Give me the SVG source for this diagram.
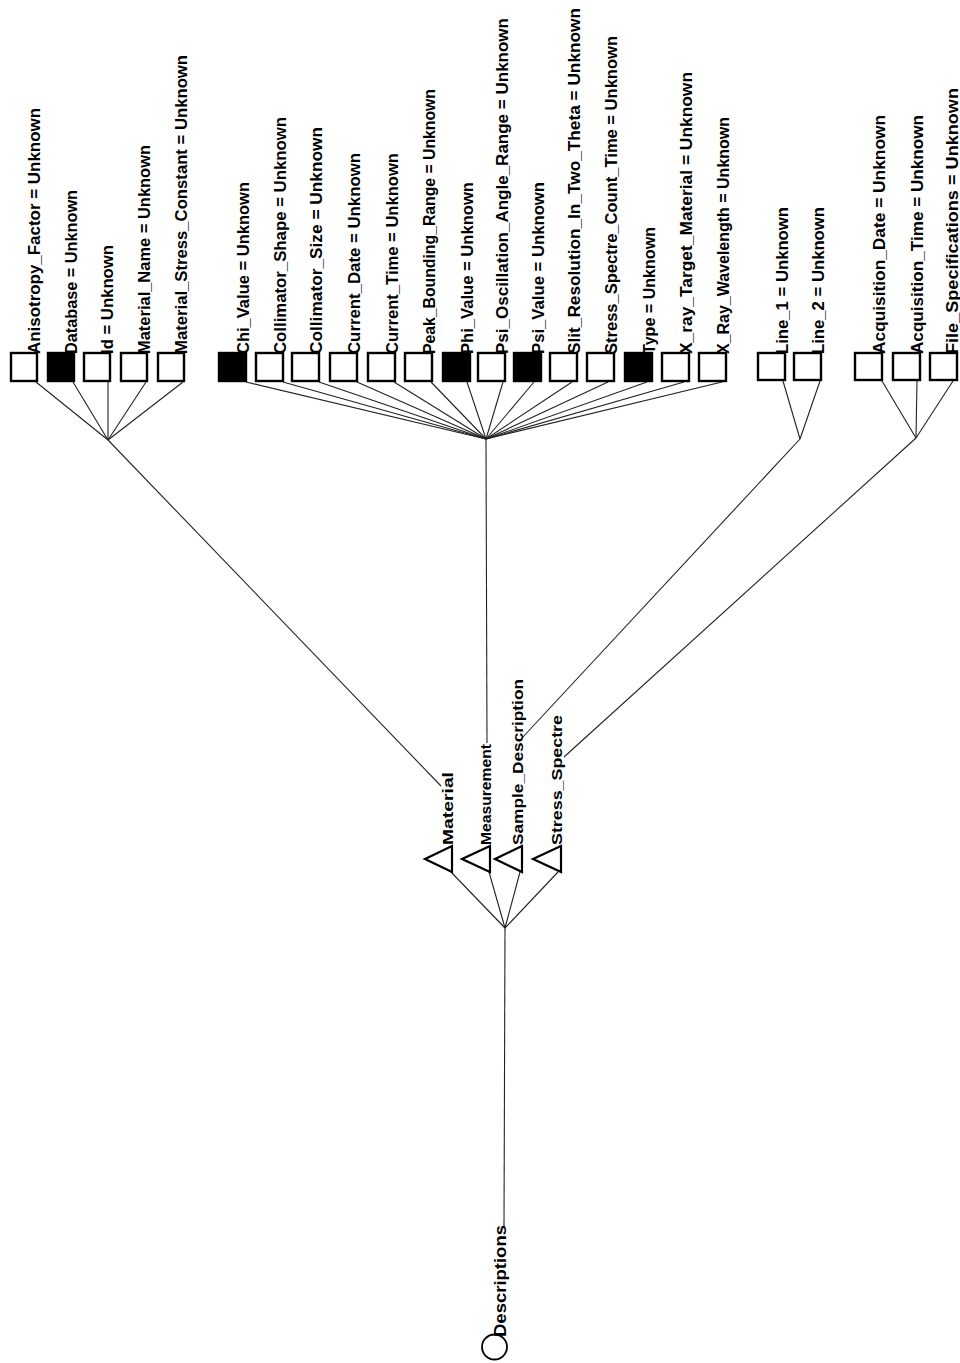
<svg xmlns="http://www.w3.org/2000/svg" width="960" height="1363" viewBox="0 0 960 1363">
<style>
.bg{fill:#ffffff}
.box{fill:#ffffff;stroke:#000;stroke-width:2.4}
.box.f{fill:#000}
.tri{fill:#fff;stroke:#000;stroke-width:2.2}
.circ{fill:#fff;stroke:#000;stroke-width:1.8}
.lbl{font-family:"Liberation Sans",Arial,sans-serif;font-weight:bold;font-size:17px;fill:#000}
.tl{font-family:"Liberation Sans",Arial,sans-serif;font-weight:bold;font-size:15px;fill:#000}
#connectors line{stroke:#222;stroke-width:1.1}
</style>
<rect class="bg" x="0" y="0" width="960" height="1363"/>
<g id="connectors">
<line x1="36" y1="382" x2="108" y2="440"/>
<line x1="73" y1="382" x2="108" y2="440"/>
<line x1="108" y1="382" x2="108" y2="440"/>
<line x1="146" y1="382" x2="108" y2="440"/>
<line x1="183" y1="382" x2="108" y2="440"/>
<line x1="246" y1="382" x2="486" y2="439"/>
<line x1="283" y1="382" x2="486" y2="439"/>
<line x1="319" y1="382" x2="486" y2="439"/>
<line x1="357" y1="382" x2="486" y2="439"/>
<line x1="394" y1="382" x2="486" y2="439"/>
<line x1="431" y1="382" x2="486" y2="439"/>
<line x1="467" y1="382" x2="486" y2="439"/>
<line x1="503" y1="382" x2="486" y2="439"/>
<line x1="534" y1="382" x2="486" y2="439"/>
<line x1="572" y1="382" x2="486" y2="439"/>
<line x1="608" y1="382" x2="486" y2="439"/>
<line x1="647" y1="382" x2="486" y2="439"/>
<line x1="684" y1="382" x2="486" y2="439"/>
<line x1="722" y1="382" x2="486" y2="439"/>
<line x1="783" y1="381" x2="800" y2="439"/>
<line x1="820" y1="381" x2="800" y2="439"/>
<line x1="882" y1="381" x2="916" y2="438"/>
<line x1="917" y1="381" x2="916" y2="438"/>
<line x1="953" y1="381" x2="916" y2="438"/>
<line x1="108" y1="440" x2="441" y2="786"/>
<line x1="486" y1="439" x2="487" y2="743"/>
<line x1="800" y1="439" x2="522" y2="738"/>
<line x1="916" y1="438" x2="564" y2="757"/>
<line x1="451" y1="872" x2="505" y2="928"/>
<line x1="489" y1="872" x2="505" y2="928"/>
<line x1="520" y1="872" x2="505" y2="928"/>
<line x1="558" y1="872" x2="505" y2="928"/>
<line x1="505" y1="928" x2="504" y2="1226"/>
</g>

<g id="node-descriptions">
<circle class="circ" cx="494.5" cy="1347" r="12.5"/>
<text class="lbl" transform="translate(506,1337) rotate(-90)" textLength="112" lengthAdjust="spacingAndGlyphs">Descriptions</text>
</g>

<g id="node-material">
<polygon class="tri" points="425,859 452,846 452,872"/>
<text class="tl" transform="translate(453,845) rotate(-90)" textLength="73" lengthAdjust="spacingAndGlyphs">Material</text>
</g>
<g id="node-measurement">
<polygon class="tri" points="462,859 490,846 490,872"/>
<text class="tl" transform="translate(491,845) rotate(-90)" textLength="101" lengthAdjust="spacingAndGlyphs">Measurement</text>
</g>
<g id="node-sample-description">
<polygon class="tri" points="495,859 522,846 522,872"/>
<text class="tl" transform="translate(523,845) rotate(-90)" textLength="166" lengthAdjust="spacingAndGlyphs">Sample_Description</text>
</g>
<g id="node-stress-spectre">
<polygon class="tri" points="533,859 561,846 561,872"/>
<text class="tl" transform="translate(562,845) rotate(-90)" textLength="130" lengthAdjust="spacingAndGlyphs">Stress_Spectre</text>
</g>

<g id="node-anisotropy-factor">
<rect class="box" x="11" y="353" width="26" height="28"/>
<text class="lbl" transform="translate(40,354) rotate(-90)" textLength="246" lengthAdjust="spacingAndGlyphs">Anisotropy_Factor = Unknown</text>
</g>
<g id="node-database">
<rect class="box f" x="48" y="353" width="26" height="28"/>
<text class="lbl" transform="translate(77,354) rotate(-90)" textLength="164" lengthAdjust="spacingAndGlyphs">Database = Unknown</text>
</g>
<g id="node-id">
<rect class="box" x="84" y="353" width="26" height="28"/>
<text class="lbl" transform="translate(113,354) rotate(-90)" textLength="109" lengthAdjust="spacingAndGlyphs">Id = Unknown</text>
</g>
<g id="node-material-name">
<rect class="box" x="121" y="353" width="26" height="28"/>
<text class="lbl" transform="translate(150,354) rotate(-90)" textLength="209" lengthAdjust="spacingAndGlyphs">Material_Name = Unknown</text>
</g>
<g id="node-material-stress-constant">
<rect class="box" x="158" y="353" width="26" height="28"/>
<text class="lbl" transform="translate(187,354) rotate(-90)" textLength="299" lengthAdjust="spacingAndGlyphs">Material_Stress_Constant = Unknown</text>
</g>

<g id="node-chi-value">
<rect class="box f" x="219" y="353" width="27" height="28"/>
<text class="lbl" transform="translate(249,354) rotate(-90)" textLength="172" lengthAdjust="spacingAndGlyphs">Chi_Value = Unknown</text>
</g>
<g id="node-collimator-shape">
<rect class="box" x="256" y="353" width="27" height="28"/>
<text class="lbl" transform="translate(286,354) rotate(-90)" textLength="237" lengthAdjust="spacingAndGlyphs">Collimator_Shape = Unknown</text>
</g>
<g id="node-collimator-size">
<rect class="box" x="292" y="353" width="27" height="28"/>
<text class="lbl" transform="translate(322,354) rotate(-90)" textLength="227" lengthAdjust="spacingAndGlyphs">Collimator_Size = Unknown</text>
</g>
<g id="node-current-date">
<rect class="box" x="330" y="353" width="27" height="28"/>
<text class="lbl" transform="translate(360,354) rotate(-90)" textLength="201" lengthAdjust="spacingAndGlyphs">Current_Date = Unknown</text>
</g>
<g id="node-current-time">
<rect class="box" x="368" y="353" width="27" height="28"/>
<text class="lbl" transform="translate(398,354) rotate(-90)" textLength="201" lengthAdjust="spacingAndGlyphs">Current_Time = Unknown</text>
</g>
<g id="node-peak-bounding-range">
<rect class="box" x="405" y="353" width="27" height="28"/>
<text class="lbl" transform="translate(435,354) rotate(-90)" textLength="265" lengthAdjust="spacingAndGlyphs">Peak_Bounding_Range = Unknown</text>
</g>
<g id="node-phi-value">
<rect class="box f" x="443" y="353" width="27" height="28"/>
<text class="lbl" transform="translate(473,354) rotate(-90)" textLength="172" lengthAdjust="spacingAndGlyphs">Phi_Value = Unknown</text>
</g>
<g id="node-psi-oscillation-angle-range">
<rect class="box" x="478" y="353" width="27" height="28"/>
<text class="lbl" transform="translate(508,354) rotate(-90)" textLength="336" lengthAdjust="spacingAndGlyphs">Psi_Oscillation_Angle_Range = Unknown</text>
</g>
<g id="node-psi-value">
<rect class="box f" x="514" y="353" width="27" height="28"/>
<text class="lbl" transform="translate(544,354) rotate(-90)" textLength="172" lengthAdjust="spacingAndGlyphs">Psi_Value = Unknown</text>
</g>
<g id="node-slit-resolution">
<rect class="box" x="550" y="353" width="27" height="28"/>
<text class="lbl" transform="translate(580,354) rotate(-90)" textLength="346" lengthAdjust="spacingAndGlyphs">Slit_Resolution_In_Two_Theta = Unknown</text>
</g>
<g id="node-stress-spectre-count-time">
<rect class="box" x="587" y="353" width="27" height="28"/>
<text class="lbl" transform="translate(617,354) rotate(-90)" textLength="318" lengthAdjust="spacingAndGlyphs">Stress_Spectre_Count_Time = Unknown</text>
</g>
<g id="node-type">
<rect class="box f" x="625" y="353" width="27" height="28"/>
<text class="lbl" transform="translate(655,354) rotate(-90)" textLength="127" lengthAdjust="spacingAndGlyphs">Type = Unknown</text>
</g>
<g id="node-x-ray-target-material">
<rect class="box" x="662" y="353" width="27" height="28"/>
<text class="lbl" transform="translate(692,354) rotate(-90)" textLength="282" lengthAdjust="spacingAndGlyphs">X_ray_Target_Material = Unknown</text>
</g>
<g id="node-x-ray-wavelength">
<rect class="box" x="699" y="353" width="27" height="28"/>
<text class="lbl" transform="translate(729,354) rotate(-90)" textLength="237" lengthAdjust="spacingAndGlyphs">X_Ray_Wavelength = Unknown</text>
</g>

<g id="node-line-1">
<rect class="box" x="758" y="353" width="27" height="27"/>
<text class="lbl" transform="translate(788,354) rotate(-90)" textLength="147" lengthAdjust="spacingAndGlyphs">Line_1 = Unknown</text>
</g>
<g id="node-line-2">
<rect class="box" x="794" y="353" width="27" height="27"/>
<text class="lbl" transform="translate(824,354) rotate(-90)" textLength="147" lengthAdjust="spacingAndGlyphs">Line_2 = Unknown</text>
</g>

<g id="node-acquisition-date">
<rect class="box" x="855" y="353" width="27" height="27"/>
<text class="lbl" transform="translate(885,354) rotate(-90)" textLength="239" lengthAdjust="spacingAndGlyphs">Acquisition_Date = Unknown</text>
</g>
<g id="node-acquisition-time">
<rect class="box" x="893" y="353" width="27" height="27"/>
<text class="lbl" transform="translate(923,354) rotate(-90)" textLength="239" lengthAdjust="spacingAndGlyphs">Acquisition_Time = Unknown</text>
</g>
<g id="node-file-specifications">
<rect class="box" x="930" y="353" width="27" height="27"/>
<text class="lbl" transform="translate(958,354) rotate(-90)" textLength="266" lengthAdjust="spacingAndGlyphs">File_Specifications = Unknown</text>
</g>
</svg>
